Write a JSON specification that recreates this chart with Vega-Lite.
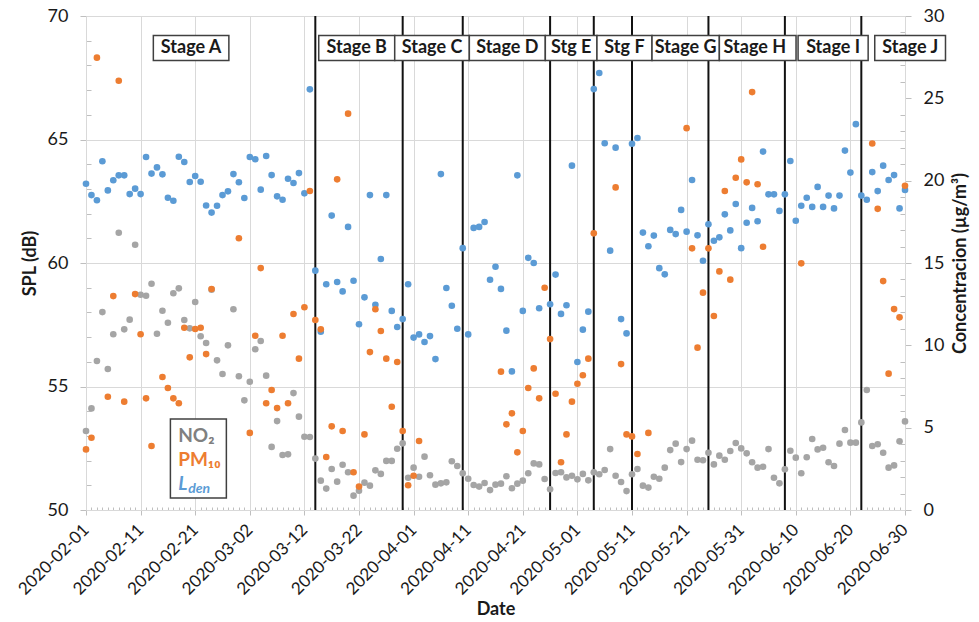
{
  "$schema": "https://vega.github.io/schema/vega-lite/v6.json",
  "width": 819,
  "height": 494,
  "autosize": {"type": "none"},
  "padding": {"left": 86, "top": 16, "right": 74, "bottom": 112},
  "background": "white",
  "config": {
    "view": {"stroke": null},
    "font": "Lato",
    "axis": {"labelFont": "Lato", "titleFont": "Lato"}
  },
  "datasets": {
    "daily": [
      {"d": "2020-02-01", "lden": 63.21, "no2": 4.80, "pm10": 3.68},
      {"d": "2020-02-02", "lden": 62.75, "no2": 6.17, "pm10": 4.39},
      {"d": "2020-02-03", "lden": 62.54, "no2": 9.05, "pm10": 27.47},
      {"d": "2020-02-04", "lden": 64.12, "no2": 12.02, "pm10": null},
      {"d": "2020-02-05", "lden": 62.94, "no2": 8.56, "pm10": 6.88},
      {"d": "2020-02-06", "lden": 63.35, "no2": 10.67, "pm10": 12.99},
      {"d": "2020-02-07", "lden": 63.55, "no2": 16.84, "pm10": 26.07},
      {"d": "2020-02-08", "lden": 63.55, "no2": 10.97, "pm10": 6.58},
      {"d": "2020-02-09", "lden": 62.79, "no2": 11.56, "pm10": null},
      {"d": "2020-02-10", "lden": 63.01, "no2": 16.11, "pm10": 13.11},
      {"d": "2020-02-11", "lden": 62.79, "no2": 13.07, "pm10": 10.67},
      {"d": "2020-02-12", "lden": 64.29, "no2": 13.01, "pm10": 6.78},
      {"d": "2020-02-13", "lden": 63.62, "no2": 13.74, "pm10": 3.89},
      {"d": "2020-02-14", "lden": 63.87, "no2": 10.70, "pm10": null},
      {"d": "2020-02-15", "lden": 63.59, "no2": 12.10, "pm10": 8.08},
      {"d": "2020-02-16", "lden": 62.64, "no2": 11.37, "pm10": 7.41},
      {"d": "2020-02-17", "lden": 62.52, "no2": 13.16, "pm10": 6.78},
      {"d": "2020-02-18", "lden": 64.30, "no2": 13.46, "pm10": 6.48},
      {"d": "2020-02-19", "lden": 64.09, "no2": 11.54, "pm10": 11.07},
      {"d": "2020-02-20", "lden": 63.28, "no2": 11.03, "pm10": 9.27},
      {"d": "2020-02-21", "lden": 63.52, "no2": 12.63, "pm10": 10.99},
      {"d": "2020-02-22", "lden": 63.29, "no2": 10.55, "pm10": 11.07},
      {"d": "2020-02-23", "lden": 62.33, "no2": 10.14, "pm10": 9.47},
      {"d": "2020-02-24", "lden": 62.04, "no2": 13.38, "pm10": 13.42},
      {"d": "2020-02-25", "lden": 62.32, "no2": 9.09, "pm10": null},
      {"d": "2020-02-26", "lden": 62.75, "no2": 8.26, "pm10": null},
      {"d": "2020-02-27", "lden": 62.90, "no2": 10.00, "pm10": null},
      {"d": "2020-02-28", "lden": 63.60, "no2": 12.19, "pm10": null},
      {"d": "2020-02-29", "lden": 63.27, "no2": 8.12, "pm10": 16.50},
      {"d": "2020-03-01", "lden": 62.63, "no2": 6.66, "pm10": null},
      {"d": "2020-03-02", "lden": 64.29, "no2": 7.79, "pm10": 4.68},
      {"d": "2020-03-03", "lden": 64.20, "no2": 9.76, "pm10": 10.58},
      {"d": "2020-03-04", "lden": 62.97, "no2": 10.26, "pm10": 14.69},
      {"d": "2020-03-05", "lden": 64.33, "no2": 8.16, "pm10": 6.48},
      {"d": "2020-03-06", "lden": 63.56, "no2": 3.83, "pm10": 7.29},
      {"d": "2020-03-07", "lden": 62.70, "no2": 5.40, "pm10": 6.19},
      {"d": "2020-03-08", "lden": 62.56, "no2": 3.34, "pm10": 10.58},
      {"d": "2020-03-09", "lden": 63.41, "no2": 3.38, "pm10": 6.48},
      {"d": "2020-03-10", "lden": 63.24, "no2": 7.10, "pm10": 11.90},
      {"d": "2020-03-11", "lden": 63.64, "no2": 5.67, "pm10": 9.19},
      {"d": "2020-03-12", "lden": 62.82, "no2": 4.45, "pm10": 12.31},
      {"d": "2020-03-13", "lden": 67.03, "no2": 4.43, "pm10": 19.37},
      {"d": "2020-03-14", "lden": 59.69, "no2": 3.12, "pm10": 11.54},
      {"d": "2020-03-15", "lden": 57.22, "no2": 1.78, "pm10": 10.97},
      {"d": "2020-03-16", "lden": 59.14, "no2": 1.30, "pm10": 3.22},
      {"d": "2020-03-17", "lden": 61.92, "no2": 2.49, "pm10": 5.08},
      {"d": "2020-03-18", "lden": 59.23, "no2": 1.72, "pm10": 20.08},
      {"d": "2020-03-19", "lden": 58.85, "no2": 2.75, "pm10": 4.80},
      {"d": "2020-03-20", "lden": 61.46, "no2": 2.29, "pm10": 24.07},
      {"d": "2020-03-21", "lden": 59.28, "no2": 0.87, "pm10": 2.29},
      {"d": "2020-03-22", "lden": 57.52, "no2": 1.17, "pm10": 1.42},
      {"d": "2020-03-23", "lden": 58.61, "no2": 1.66, "pm10": 4.59},
      {"d": "2020-03-24", "lden": 62.75, "no2": 1.48, "pm10": 9.59},
      {"d": "2020-03-25", "lden": 58.31, "no2": 2.41, "pm10": 12.19},
      {"d": "2020-03-26", "lden": 60.16, "no2": 2.19, "pm10": 10.87},
      {"d": "2020-03-27", "lden": 62.75, "no2": 2.98, "pm10": 9.19},
      {"d": "2020-03-28", "lden": 58.06, "no2": 2.98, "pm10": 6.27},
      {"d": "2020-03-29", "lden": 57.41, "no2": 3.72, "pm10": 8.99},
      {"d": "2020-03-30", "lden": 57.73, "no2": 4.05, "pm10": 4.80},
      {"d": "2020-03-31", "lden": 59.14, "no2": 1.96, "pm10": 1.50},
      {"d": "2020-04-01", "lden": 56.98, "no2": 2.57, "pm10": 2.08},
      {"d": "2020-04-02", "lden": 57.11, "no2": 2.02, "pm10": 4.19},
      {"d": "2020-04-03", "lden": 56.80, "no2": 3.24, "pm10": null},
      {"d": "2020-04-04", "lden": 57.04, "no2": 2.11, "pm10": null},
      {"d": "2020-04-05", "lden": 56.11, "no2": 1.54, "pm10": null},
      {"d": "2020-04-06", "lden": 63.60, "no2": 1.62, "pm10": null},
      {"d": "2020-04-07", "lden": 58.99, "no2": 1.68, "pm10": null},
      {"d": "2020-04-08", "lden": 58.27, "no2": 2.96, "pm10": null},
      {"d": "2020-04-09", "lden": 57.34, "no2": 2.67, "pm10": null},
      {"d": "2020-04-10", "lden": 60.60, "no2": 2.23, "pm10": null},
      {"d": "2020-04-11", "lden": 57.11, "no2": 1.90, "pm10": null},
      {"d": "2020-04-12", "lden": 61.42, "no2": 1.52, "pm10": null},
      {"d": "2020-04-13", "lden": 61.46, "no2": 1.42, "pm10": null},
      {"d": "2020-04-14", "lden": 61.66, "no2": 1.64, "pm10": null},
      {"d": "2020-04-15", "lden": 59.32, "no2": 1.21, "pm10": null},
      {"d": "2020-04-16", "lden": 59.85, "no2": 1.54, "pm10": null},
      {"d": "2020-04-17", "lden": 58.95, "no2": 1.60, "pm10": 8.40},
      {"d": "2020-04-18", "lden": 57.26, "no2": 2.05, "pm10": 5.20},
      {"d": "2020-04-19", "lden": 55.61, "no2": 1.32, "pm10": 5.87},
      {"d": "2020-04-20", "lden": 63.55, "no2": 1.60, "pm10": 3.50},
      {"d": "2020-04-21", "lden": 58.06, "no2": 1.78, "pm10": 4.80},
      {"d": "2020-04-22", "lden": 60.21, "no2": 2.23, "pm10": 7.41},
      {"d": "2020-04-23", "lden": 60.00, "no2": 2.83, "pm10": 8.60},
      {"d": "2020-04-24", "lden": 58.17, "no2": 2.77, "pm10": 6.78},
      {"d": "2020-04-25", "lden": null, "no2": 1.88, "pm10": 13.50},
      {"d": "2020-04-26", "lden": 58.33, "no2": 1.26, "pm10": 10.38},
      {"d": "2020-04-27", "lden": 59.53, "no2": 2.25, "pm10": 7.06},
      {"d": "2020-04-28", "lden": 57.94, "no2": 2.29, "pm10": 2.90},
      {"d": "2020-04-29", "lden": 58.29, "no2": 1.98, "pm10": 4.59},
      {"d": "2020-04-30", "lden": 63.94, "no2": 2.08, "pm10": 6.58},
      {"d": "2020-05-01", "lden": 55.99, "no2": 1.86, "pm10": 7.67},
      {"d": "2020-05-02", "lden": 57.30, "no2": 2.19, "pm10": 8.18},
      {"d": "2020-05-03", "lden": 58.03, "no2": 1.80, "pm10": 9.19},
      {"d": "2020-05-04", "lden": 67.04, "no2": 2.29, "pm10": 16.80},
      {"d": "2020-05-05", "lden": 67.69, "no2": 2.17, "pm10": null},
      {"d": "2020-05-06", "lden": 64.85, "no2": 2.43, "pm10": null},
      {"d": "2020-05-07", "lden": 60.50, "no2": 3.70, "pm10": null},
      {"d": "2020-05-08", "lden": 64.67, "no2": 2.08, "pm10": 19.59},
      {"d": "2020-05-09", "lden": 57.73, "no2": 1.70, "pm10": 8.86},
      {"d": "2020-05-10", "lden": 57.15, "no2": 1.15, "pm10": 4.59},
      {"d": "2020-05-11", "lden": 64.83, "no2": 2.17, "pm10": 4.47},
      {"d": "2020-05-12", "lden": 65.06, "no2": 2.49, "pm10": 3.40},
      {"d": "2020-05-13", "lden": 61.23, "no2": 1.48, "pm10": null},
      {"d": "2020-05-14", "lden": 60.68, "no2": 1.36, "pm10": 4.68},
      {"d": "2020-05-15", "lden": 61.11, "no2": 2.02, "pm10": null},
      {"d": "2020-05-16", "lden": 59.79, "no2": 1.90, "pm10": null},
      {"d": "2020-05-17", "lden": 59.54, "no2": 2.57, "pm10": null},
      {"d": "2020-05-18", "lden": 61.34, "no2": 3.64, "pm10": null},
      {"d": "2020-05-19", "lden": 61.17, "no2": 4.03, "pm10": null},
      {"d": "2020-05-20", "lden": 62.15, "no2": 2.91, "pm10": null},
      {"d": "2020-05-21", "lden": 61.27, "no2": 3.70, "pm10": 23.19},
      {"d": "2020-05-22", "lden": 63.36, "no2": 4.21, "pm10": 15.89},
      {"d": "2020-05-23", "lden": 61.12, "no2": 3.05, "pm10": 9.86},
      {"d": "2020-05-24", "lden": 60.09, "no2": 3.02, "pm10": 13.20},
      {"d": "2020-05-25", "lden": 61.57, "no2": 3.48, "pm10": 15.89},
      {"d": "2020-05-26", "lden": 60.90, "no2": 2.77, "pm10": 11.78},
      {"d": "2020-05-27", "lden": 61.04, "no2": 3.30, "pm10": 14.49},
      {"d": "2020-05-28", "lden": 61.97, "no2": 3.05, "pm10": 19.37},
      {"d": "2020-05-29", "lden": 61.32, "no2": 3.58, "pm10": 13.99},
      {"d": "2020-05-30", "lden": 62.39, "no2": 4.07, "pm10": 20.18},
      {"d": "2020-05-31", "lden": 60.60, "no2": 3.74, "pm10": 21.29},
      {"d": "2020-06-01", "lden": 61.63, "no2": 3.44, "pm10": 19.90},
      {"d": "2020-06-02", "lden": 62.23, "no2": 2.90, "pm10": 25.38},
      {"d": "2020-06-03", "lden": 61.69, "no2": 2.57, "pm10": 19.78},
      {"d": "2020-06-04", "lden": 64.51, "no2": 2.63, "pm10": 15.99},
      {"d": "2020-06-05", "lden": 62.78, "no2": 3.70, "pm10": null},
      {"d": "2020-06-06", "lden": 62.78, "no2": 1.96, "pm10": null},
      {"d": "2020-06-07", "lden": 62.11, "no2": 1.62, "pm10": null},
      {"d": "2020-06-08", "lden": 62.78, "no2": 2.47, "pm10": null},
      {"d": "2020-06-09", "lden": 64.13, "no2": 3.60, "pm10": null},
      {"d": "2020-06-10", "lden": 61.71, "no2": 3.18, "pm10": null},
      {"d": "2020-06-11", "lden": 62.32, "no2": 2.23, "pm10": 14.98},
      {"d": "2020-06-12", "lden": 62.64, "no2": 3.20, "pm10": null},
      {"d": "2020-06-13", "lden": 62.27, "no2": 4.31, "pm10": null},
      {"d": "2020-06-14", "lden": 63.08, "no2": 3.68, "pm10": null},
      {"d": "2020-06-15", "lden": 62.27, "no2": 3.78, "pm10": null},
      {"d": "2020-06-16", "lden": 62.73, "no2": 2.90, "pm10": null},
      {"d": "2020-06-17", "lden": 62.21, "no2": 2.67, "pm10": null},
      {"d": "2020-06-18", "lden": 62.73, "no2": 4.03, "pm10": null},
      {"d": "2020-06-19", "lden": 64.55, "no2": 4.86, "pm10": null},
      {"d": "2020-06-20", "lden": 63.66, "no2": 4.09, "pm10": null},
      {"d": "2020-06-21", "lden": 65.62, "no2": 4.09, "pm10": null},
      {"d": "2020-06-22", "lden": 62.73, "no2": 5.32, "pm10": null},
      {"d": "2020-06-23", "lden": 62.56, "no2": 7.29, "pm10": null},
      {"d": "2020-06-24", "lden": 63.68, "no2": 3.89, "pm10": 22.26},
      {"d": "2020-06-25", "lden": 62.91, "no2": 3.99, "pm10": 18.29},
      {"d": "2020-06-26", "lden": 63.94, "no2": 3.48, "pm10": 13.90},
      {"d": "2020-06-27", "lden": 63.36, "no2": 2.57, "pm10": 8.28},
      {"d": "2020-06-28", "lden": 63.56, "no2": 2.71, "pm10": 12.20},
      {"d": "2020-06-29", "lden": 62.21, "no2": 4.17, "pm10": 11.70},
      {"d": "2020-06-30", "lden": 62.96, "no2": 5.38, "pm10": 19.69}
    ],
    "stageLines": [
      {"d": "2020-03-14"}, {"d": "2020-03-30"}, {"d": "2020-04-10"},
      {"d": "2020-04-26"}, {"d": "2020-05-04"}, {"d": "2020-05-11"},
      {"d": "2020-05-25"}, {"d": "2020-06-08"}, {"d": "2020-06-22"}
    ],
    "stageBoxes": [
      {"d": "2020-02-13T08:00Z", "d2": "2020-02-27T04:00Z", "ya": 69.21, "yb": 68.2},
      {"d": "2020-03-14T15:00Z", "d2": "2020-03-28T13:00Z", "ya": 69.21, "yb": 68.2},
      {"d": "2020-03-28T13:00Z", "d2": "2020-04-11T05:00Z", "ya": 69.21, "yb": 68.2},
      {"d": "2020-04-11T05:00Z", "d2": "2020-04-25T03:00Z", "ya": 69.21, "yb": 68.2},
      {"d": "2020-04-25T03:00Z", "d2": "2020-05-04T14:00Z", "ya": 69.21, "yb": 68.2},
      {"d": "2020-05-04T14:00Z", "d2": "2020-05-14T16:00Z", "ya": 69.21, "yb": 68.2},
      {"d": "2020-05-14T16:00Z", "d2": "2020-05-27T00:00Z", "ya": 69.21, "yb": 68.2},
      {"d": "2020-05-27T00:00Z", "d2": "2020-06-10T01:00Z", "ya": 69.21, "yb": 68.2},
      {"d": "2020-06-10T10:00Z", "d2": "2020-06-23T06:00Z", "ya": 69.21, "yb": 68.2},
      {"d": "2020-06-24T11:00Z", "d2": "2020-07-07T10:00Z", "ya": 69.21, "yb": 68.2}
    ],
    "stageLabels": [
      {"d": "2020-02-20T06:00Z", "y": 68.70, "label": "Stage A"},
      {"d": "2020-03-21T14:00Z", "y": 68.70, "label": "Stage B"},
      {"d": "2020-04-04T09:00Z", "y": 68.70, "label": "Stage C"},
      {"d": "2020-04-18T04:00Z", "y": 68.70, "label": "Stage D"},
      {"d": "2020-04-29T21:00Z", "y": 68.70, "label": "Stg E"},
      {"d": "2020-05-09T15:00Z", "y": 68.70, "label": "Stg F"},
      {"d": "2020-05-20T20:00Z", "y": 68.70, "label": "Stage G"},
      {"d": "2020-06-02T12:00Z", "y": 68.70, "label": "Stage H"},
      {"d": "2020-06-16T20:00Z", "y": 68.70, "label": "Stage I"},
      {"d": "2020-06-30T23:00Z", "y": 68.70, "label": "Stage J"}
    ],
    "legendBox": [
      {"d": "2020-02-16T11:00Z", "d2": "2020-02-26T17:00Z", "ya": 53.68, "yb": 50.49}
    ],
    "legendNO2": [{"d": "2020-02-17T21:00Z", "y": 52.98, "label": "NO₂"}],
    "legendPM": [{"d": "2020-02-17T21:00Z", "y": 52.04, "label": "PM₁₀"}],
    "legendL": [{"d": "2020-02-17T21:00Z", "y": 51.05, "label": "L"}],
    "legendDen": [{"d": "2020-02-17T21:00Z", "y": 51.05, "label": "den"}]
  },
  "encoding": {
    "x": {
      "field": "d",
      "type": "temporal",
      "scale": {
        "type": "utc",
        "domain": [
          {"year": 2020, "month": 2, "date": 1, "utc": true},
          {"year": 2020, "month": 6, "date": 30, "utc": true}
        ]
      },
      "axis": {
        "title": "Date",
        "titleFontSize": 18,
        "titleFontWeight": "bold",
        "titleColor": "#1a1a1a",
        "titlePadding": 3,
        "tickCount": {"interval": "day", "step": 1},
        "labelExpr": "round((datum.value - utc(2020,1,1)) / 86400000) % 10 == 0 ? utcFormat(datum.value, '%Y-%m-%d') : ''",
        "labelAngle": -45,
        "labelAlign": "right",
        "labelBaseline": "middle",
        "labelFontSize": 17,
        "labelColor": "#1a1a1a",
        "labelOverlap": false,
        "labelFlush": false,
        "labelPadding": 12,
        "domainColor": "#d9d9d9",
        "grid": true,
        "gridColor": "#d9d9d9",
        "gridOpacity": {"condition": {"test": "round((datum.value - utc(2020,1,1)) / 86400000) % 10 == 0", "value": 1}, "value": 0},
        "tickColor": "#bfbfbf",
        "tickSize": {"condition": {"test": "round((datum.value - utc(2020,1,1)) / 86400000) % 10 == 0", "value": 5}, "value": -3}
      }
    }
  },
  "layer": [
    {
      "data": {"name": "stageLines"},
      "mark": {"type": "rule", "color": "#111111", "strokeWidth": 2},
      "encoding": {}
    },
    {
      "data": {"name": "daily"},
      "mark": {"type": "circle", "size": 44, "opacity": 1, "color": "#5B9BD5"},
      "encoding": {
        "y": {
          "field": "lden",
          "type": "quantitative",
          "scale": {"domain": [50, 70], "nice": false, "zero": false},
          "axis": {
            "orient": "left",
            "title": "SPL (dB)",
            "titleFontSize": 18,
            "titleFontWeight": "bold",
            "titleColor": "#1a1a1a",
            "titlePadding": 8,
            "values": [50,51,52,53,54,55,56,57,58,59,60,61,62,63,64,65,66,67,68,69,70],
            "labelExpr": "datum.value % 5 == 0 ? datum.value : ''",
            "labelFontSize": 18,
            "labelColor": "#1a1a1a",
            "labelPadding": 12,
            "domainColor": "#d9d9d9",
            "grid": true,
            "gridColor": "#d9d9d9",
            "gridOpacity": {"condition": {"test": "datum.value % 5 == 0", "value": 1}, "value": 0},
            "tickColor": "#bfbfbf",
            "tickSize": {"condition": {"test": "datum.value % 5 == 0", "value": 6}, "value": -5}
          }
        }
      }
    },
    {
      "data": {"name": "daily"},
      "mark": {"type": "circle", "size": 44, "opacity": 1, "color": "#A5A5A5"},
      "encoding": {
        "y": {
          "field": "no2",
          "type": "quantitative",
          "scale": {"domain": [0, 30], "nice": false},
          "axis": {
            "orient": "right",
            "title": "Concentracion (µg/m³)",
            "titleAngle": 270,
            "titleFontSize": 18,
            "titleFontWeight": "bold",
            "titleColor": "#1a1a1a",
            "titlePadding": 26,
            "values": [0,1,2,3,4,5,6,7,8,9,10,11,12,13,14,15,16,17,18,19,20,21,22,23,24,25,26,27,28,29,30],
            "labelExpr": "datum.value % 5 == 0 ? datum.value : ''",
            "labelFontSize": 18,
            "labelColor": "#1a1a1a",
            "labelPadding": 12,
            "domainColor": "#d9d9d9",
            "grid": false,
            "tickColor": "#bfbfbf",
            "tickSize": {"condition": {"test": "datum.value % 5 == 0", "value": 6}, "value": -5}
          }
        }
      }
    },
    {
      "data": {"name": "daily"},
      "mark": {"type": "circle", "size": 44, "opacity": 1, "color": "#ED7D31"},
      "encoding": {
        "y": {"field": "pm10", "type": "quantitative", "scale": {"domain": [0, 30], "nice": false}, "axis": null}
      }
    },
    {
      "data": {"name": "stageBoxes"},
      "mark": {"type": "rect", "fill": "white", "stroke": "#404040", "strokeWidth": 1.5},
      "encoding": {
        "x2": {"field": "d2"},
        "y": {"field": "ya", "type": "quantitative", "scale": {"domain": [50, 70], "nice": false, "zero": false}, "axis": null},
        "y2": {"field": "yb"}
      }
    },
    {
      "data": {"name": "stageLabels"},
      "mark": {"type": "text", "fontSize": 18, "fontWeight": "bold", "color": "#1a1a1a", "align": "center", "baseline": "middle"},
      "encoding": {
        "y": {"field": "y", "type": "quantitative", "scale": {"domain": [50, 70], "nice": false, "zero": false}, "axis": null},
        "text": {"field": "label"}
      }
    },
    {
      "data": {"name": "legendBox"},
      "mark": {"type": "rect", "fill": "white", "stroke": "#404040", "strokeWidth": 1.5},
      "encoding": {
        "x2": {"field": "d2"},
        "y": {"field": "ya", "type": "quantitative", "scale": {"domain": [50, 70], "nice": false, "zero": false}, "axis": null},
        "y2": {"field": "yb"}
      }
    },
    {
      "data": {"name": "legendNO2"},
      "mark": {"type": "text", "fontSize": 19, "fontWeight": "bold", "color": "#808080", "align": "left", "baseline": "middle"},
      "encoding": {
        "y": {"field": "y", "type": "quantitative", "scale": {"domain": [50, 70], "nice": false, "zero": false}, "axis": null},
        "text": {"field": "label"}
      }
    },
    {
      "data": {"name": "legendPM"},
      "mark": {"type": "text", "fontSize": 19, "fontWeight": "bold", "color": "#ED7D31", "align": "left", "baseline": "middle"},
      "encoding": {
        "y": {"field": "y", "type": "quantitative", "scale": {"domain": [50, 70], "nice": false, "zero": false}, "axis": null},
        "text": {"field": "label"}
      }
    },
    {
      "data": {"name": "legendL"},
      "mark": {"type": "text", "fontSize": 19, "fontWeight": "bold", "fontStyle": "italic", "color": "#5B9BD5", "align": "left", "baseline": "middle"},
      "encoding": {
        "y": {"field": "y", "type": "quantitative", "scale": {"domain": [50, 70], "nice": false, "zero": false}, "axis": null},
        "text": {"field": "label"}
      }
    },
    {
      "data": {"name": "legendDen"},
      "mark": {"type": "text", "fontSize": 14, "fontWeight": "bold", "fontStyle": "italic", "color": "#5B9BD5", "align": "left", "baseline": "middle", "dx": 10, "dy": 5},
      "encoding": {
        "y": {"field": "y", "type": "quantitative", "scale": {"domain": [50, 70], "nice": false, "zero": false}, "axis": null},
        "text": {"field": "label"}
      }
    }
  ],
  "resolve": {"scale": {"y": "independent"}}
}
